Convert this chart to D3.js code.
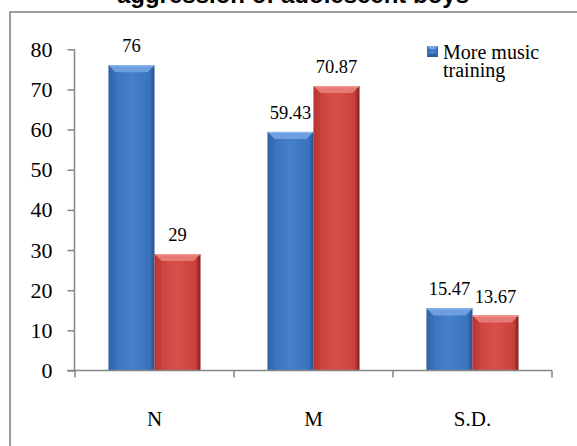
<!DOCTYPE html>
<html>
<head>
<meta charset="utf-8">
<script src="https://cdn.jsdelivr.net/npm/d3@7"></script>
<style>
  html, body { margin: 0; padding: 0; background: #fff; }
  svg { display: block; }
</style>
</head>
<body>
<svg id="chart" width="577" height="446"></svg>
<script>
// Chart data
const categories = ["N", "M", "S.D."];
const moreTraining = [76, 59.43, 15.47];
const lessTraining = [29, 70.87, 13.67];
const yTicks = [0, 10, 20, 30, 40, 50, 60, 70, 80];
const seriesNames = ["More music training", "Less music training"];
const titleText = "aggression of adolescent boys";

const svg = d3.select("#chart");
const W = 577, H = 446;
const axisColor = "#868686";
const serif = "'Liberation Serif', 'Times New Roman', serif";

// Outer frame (runs past the visible edges)
svg.append("rect")
  .attr("x", 10).attr("y", 12)
  .attr("width", W + 20).attr("height", H + 20)
  .attr("fill", "#fff")
  .attr("stroke", axisColor).attr("stroke-width", 1.6);

// Title, mostly clipped by the top edge
svg.append("text")
  .attr("x", 293).attr("y", 3)
  .attr("text-anchor", "middle")
  .attr("font-family", "'Liberation Sans', Arial, sans-serif")
  .attr("font-weight", "bold")
  .attr("font-size", 24)
  .attr("fill", "#000")
  .text(titleText);

// Scales
const plot = { left: 75, right: 552, top: 49.3, bottom: 370.5 };
const x = d3.scaleBand().domain(categories).range([plot.left, plot.right]).paddingInner(0).paddingOuter(0);
const y = d3.scaleLinear().domain([0, 80]).range([plot.bottom, plot.top]);
const barW = 46;

// Gradients
const defs = svg.append("defs");
function makeGrad(id, stops) {
  const g = defs.append("linearGradient").attr("id", id)
    .attr("x1", "0").attr("x2", "1").attr("y1", "0").attr("y2", "0");
  stops.forEach(s => g.append("stop").attr("offset", s[0]).attr("stop-color", s[1]));
}
makeGrad("blueBody", [[0, "#2f62a8"], [0.08, "#3a71bd"], [0.5, "#4580cb"], [0.9, "#3a72bc"], [1, "#25508c"]]);
makeGrad("redBody", [[0, "#b83532"], [0.08, "#cc3f3c"], [0.5, "#d8504c"], [0.9, "#c93f3b"], [1, "#7e1e1c"]]);
const series = [
  { name: seriesNames[0], values: moreTraining, body: "url(#blueBody)", top: "#6d9ee0", topEdge: "#8cb4ea", side: "#2a5a9c", shift: 0 },
  { name: seriesNames[1], values: lessTraining, body: "url(#redBody)", top: "#e87a76", topEdge: "#f09a96", side: "#a82e2b", shift: 1 }
];

// Bars with a bevelled top
const bevel = 7;
series.forEach(s => {
  const g = svg.append("g");
  categories.forEach((c, i) => {
    const v = s.values[i];
    const cx = x(c) + x.bandwidth() / 2;
    const x0 = cx - barW + s.shift * barW;
    const x1 = x0 + barW;
    const yt = y(v), yb = y(0);
    g.append("rect").attr("x", x0).attr("y", yt).attr("width", barW).attr("height", yb - yt)
      .attr("fill", s.body);
    // top bevel facet
    g.append("path")
      .attr("d", `M${x0},${yt}L${x1},${yt}L${x1 - bevel},${yt + bevel}L${x0 + bevel},${yt + bevel}Z`)
      .attr("fill", s.top);
    g.append("line").attr("x1", x0 + 1).attr("x2", x1 - 1).attr("y1", yt + 0.6).attr("y2", yt + 0.6)
      .attr("stroke", s.topEdge).attr("stroke-width", 1.2);
    // left bevel facet
    g.append("path")
      .attr("d", `M${x0},${yt}L${x0 + bevel},${yt + bevel}L${x0 + bevel},${yb}L${x0},${yb}Z`)
      .attr("fill", s.side).attr("opacity", 0.25);
  });
});

// Value labels
series.forEach(s => {
  categories.forEach((c, i) => {
    const v = s.values[i];
    const cx = x(c) + x.bandwidth() / 2;
    const bx = cx - barW / 2 + s.shift * barW;
    svg.append("text")
      .attr("x", bx).attr("y", y(v) - 13)
      .attr("text-anchor", "middle")
      .attr("font-family", serif).attr("font-size", 18.5)
      .attr("fill", "#000")
      .text(v);
  });
});

// Y axis
const yAxis = svg.append("g").attr("transform", `translate(${plot.left - 0.5},0)`)
  .call(d3.axisLeft(y).tickValues(yTicks).tickSize(7).tickPadding(15).tickFormat(d3.format("d")));
yAxis.select(".domain").attr("stroke", axisColor).attr("stroke-width", 1.5).attr("d", `M0,${plot.top}V${plot.bottom}`);
yAxis.selectAll(".tick line").attr("stroke", axisColor).attr("stroke-width", 1.5);
yAxis.selectAll(".tick text").attr("font-family", serif).attr("font-size", 22).attr("fill", "#000");

// X axis
const xAxisG = svg.append("g").attr("transform", `translate(0,${plot.bottom})`);
xAxisG.append("line").attr("x1", plot.left - 8).attr("x2", plot.right)
  .attr("y1", 0).attr("y2", 0).attr("stroke", axisColor).attr("stroke-width", 1.5);
const boundaries = categories.map(c => x(c)).concat([x(categories[categories.length - 1]) + x.bandwidth()]);
xAxisG.selectAll("line.tk").data(boundaries).join("line").attr("class", "tk")
  .attr("x1", d => d).attr("x2", d => d).attr("y1", 0).attr("y2", 7)
  .attr("stroke", axisColor).attr("stroke-width", 1.5);
xAxisG.selectAll("text").data(categories).join("text")
  .attr("x", d => x(d) + x.bandwidth() / 2).attr("y", 55)
  .attr("text-anchor", "middle")
  .attr("font-family", serif).attr("font-size", 21).attr("fill", "#000")
  .text(d => d);

// Legend (first entry)
const lg = svg.append("g").attr("transform", "translate(427,46)");
lg.append("rect").attr("width", 11).attr("height", 11).attr("fill", "url(#blueBody)");
lg.append("path").attr("d", "M0,0L11,0L8,3L3,3Z").attr("fill", "#7aa7e4");
lg.append("path").attr("d", "M0,11L11,11L8,8L3,8Z").attr("fill", "#2a5a9c");
const lt = lg.append("text").attr("x", 16).attr("y", 13)
  .attr("font-family", serif).attr("font-size", 20).attr("fill", "#000");
lt.append("tspan").attr("x", 16).attr("dy", 0).text("More music");
lt.append("tspan").attr("x", 16).attr("dy", 17.5).text("training");
</script>
</body>
</html>
